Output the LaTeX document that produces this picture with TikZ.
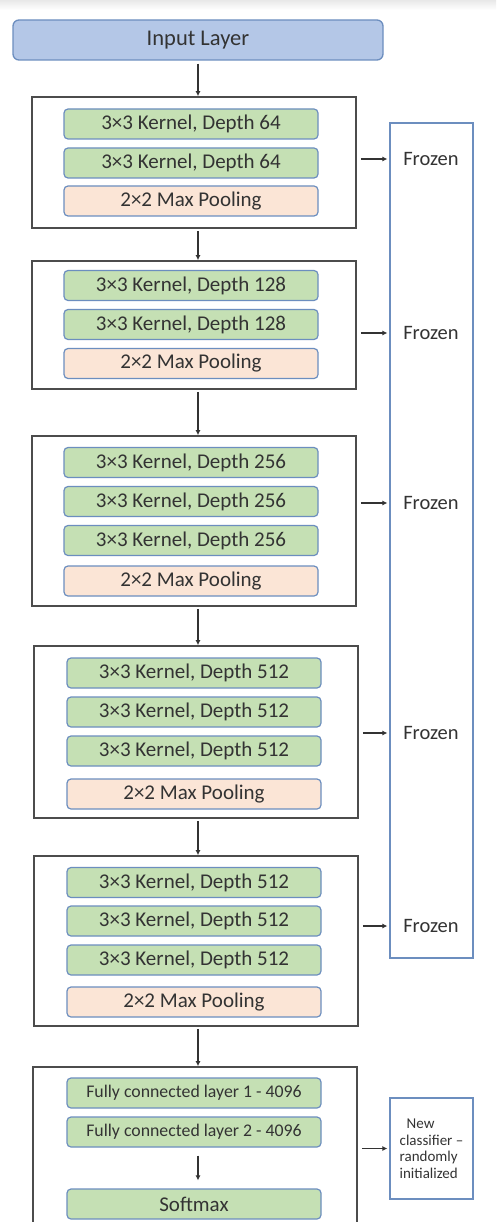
\documentclass[tikz,border=0pt]{standalone}
\usepackage{fontspec}
\setmainfont{Carlito}
\usepackage{tikz}
\usetikzlibrary{arrows.meta,positioning,calc}
\definecolor{inblue}{HTML}{B4C7E7}
\definecolor{edgeblue}{HTML}{6C8EBF}
\definecolor{convgreen}{HTML}{C5E0B4}
\definecolor{poolpeach}{HTML}{FBE5D6}
\definecolor{txtgray}{HTML}{333333}
\tikzset{
  inlayer/.style  = {rectangle, rounded corners=6pt, draw=edgeblue, fill=inblue,
                     line width=1.3pt, minimum width=370pt, minimum height=40pt,
                     font=\fontsize{22.5}{26}\selectfont, text=txtgray},
  vggblock/.style = {rectangle, draw=black!70, line width=1.6pt, fill=white,
                     minimum width=324pt},
  convbox/.style  = {rectangle, rounded corners=4pt, draw=edgeblue, fill=convgreen,
                     line width=1.2pt, minimum width=254pt, minimum height=30pt,
                     inner sep=0pt, font=\fontsize{21}{24}\selectfont, text=txtgray},
  poolbox/.style  = {convbox, fill=poolpeach},
  fcbox/.style    = {convbox, font=\fontsize{17.8}{20}\selectfont},
  sidebox/.style  = {rectangle, draw=edgeblue, line width=1.2pt, fill=white,
                     minimum width=83pt},
  frozenlbl/.style= {font=\fontsize{20.5}{24}\selectfont, text=txtgray},
  newlbl/.style   = {font=\fontsize{15}{16.5}\selectfont, text=txtgray, align=left},
  flow/.style     = {-{Latex[length=5pt,width=5pt]}, draw=black!80, line width=1.1pt},
}
\begin{document}
\begin{tikzpicture}[x=1pt,y=-1pt]
  \useasboundingbox (0,0) rectangle (496,1222);
  \clip (0,0) rectangle (496,1222);
  \fill[top color=black!9, bottom color=white] (0,0) rectangle (496,10);

  \node[inlayer] (inp) at (198,40) {Input Layer};

  \node[vggblock, minimum height=131pt] (b1) at (194,162.5) {};
  \node[convbox] (c11) at (191,124) {3×3 Kernel, Depth 64};
  \node[convbox] (c12) at (191,163) {3×3 Kernel, Depth 64};
  \node[poolbox] (p1)  at (191,201) {2×2 Max Pooling};

  \node[vggblock, minimum height=128pt] (b2) at (194,325) {};
  \node[convbox] (c21) at (191,285.5) {3×3 Kernel, Depth 128};
  \node[convbox] (c22) at (191,324.5) {3×3 Kernel, Depth 128};
  \node[poolbox] (p2)  at (191,363.5) {2×2 Max Pooling};

  \node[vggblock, minimum height=170pt] (b3) at (194,521) {};
  \node[convbox] (c31) at (191,462.5) {3×3 Kernel, Depth 256};
  \node[convbox] (c32) at (191,501.5) {3×3 Kernel, Depth 256};
  \node[convbox] (c33) at (191,540.5) {3×3 Kernel, Depth 256};
  \node[poolbox] (p3)  at (191,581) {2×2 Max Pooling};

  \node[vggblock, minimum height=172pt] (b4) at (196,732) {};
  \node[convbox] (c41) at (194,673) {3×3 Kernel, Depth 512};
  \node[convbox] (c42) at (194,712) {3×3 Kernel, Depth 512};
  \node[convbox] (c43) at (194,751) {3×3 Kernel, Depth 512};
  \node[poolbox] (p4)  at (194,794) {2×2 Max Pooling};

  \node[vggblock, minimum height=170pt] (b5) at (196,941) {};
  \node[convbox] (c51) at (194,882.5) {3×3 Kernel, Depth 512};
  \node[convbox] (c52) at (194,921) {3×3 Kernel, Depth 512};
  \node[convbox] (c53) at (194,960) {3×3 Kernel, Depth 512};
  \node[poolbox] (p5)  at (194,1002) {2×2 Max Pooling};

  \node[vggblock, minimum height=160pt] (b6) at (195,1147) {};
  \node[fcbox] (fc1) at (194,1093) {Fully connected layer 1 - 4096};
  \node[fcbox] (fc2) at (194,1132) {Fully connected layer 2 - 4096};
  \node[convbox] (smax) at (194,1204) {Softmax};

  \node[sidebox, minimum height=835pt] (frz) at (431.5,540.5) {};
  \node[sidebox, minimum height=101pt] (newc) at (431.5,1148.5) {};
  \node[newlbl] (newlbl) at (431.5,1148.5) {\hspace*{7pt}New\\classifier --\\randomly\\initialized};

  \draw[flow, shorten <=3pt] (inp.south) -- (b1.north -| inp);
  \draw[flow, shorten <=2pt] (b1.south -| inp) -- (b2.north -| inp);
  \draw[flow, shorten <=2pt] (b2.south -| inp) -- (b3.north -| inp);
  \draw[flow, shorten <=2pt] (b3.south -| inp) -- (b4.north -| inp);
  \draw[flow, shorten <=2pt] (b4.south -| inp) -- (b5.north -| inp);
  \draw[flow, shorten <=2pt] (b5.south -| inp) -- (b6.north -| inp);
  \draw[flow, shorten <=8pt, shorten >=8pt] (fc2.south -| inp) -- (smax.north -| inp);

  \foreach \i/\y in {1/159,2/333,3/503,4/733,5/926}{
    \node[frozenlbl] (fz\i) at (431,\y) {Frozen};
    \draw[flow, shorten <=4pt, shorten >=2pt] (b\i.east |- fz\i) -- (frz.west |- fz\i);
  }
  \draw[flow, shorten <=4pt, shorten >=2pt] (b6.east |- newc) -- (newc.west);
\end{tikzpicture}
\end{document}
